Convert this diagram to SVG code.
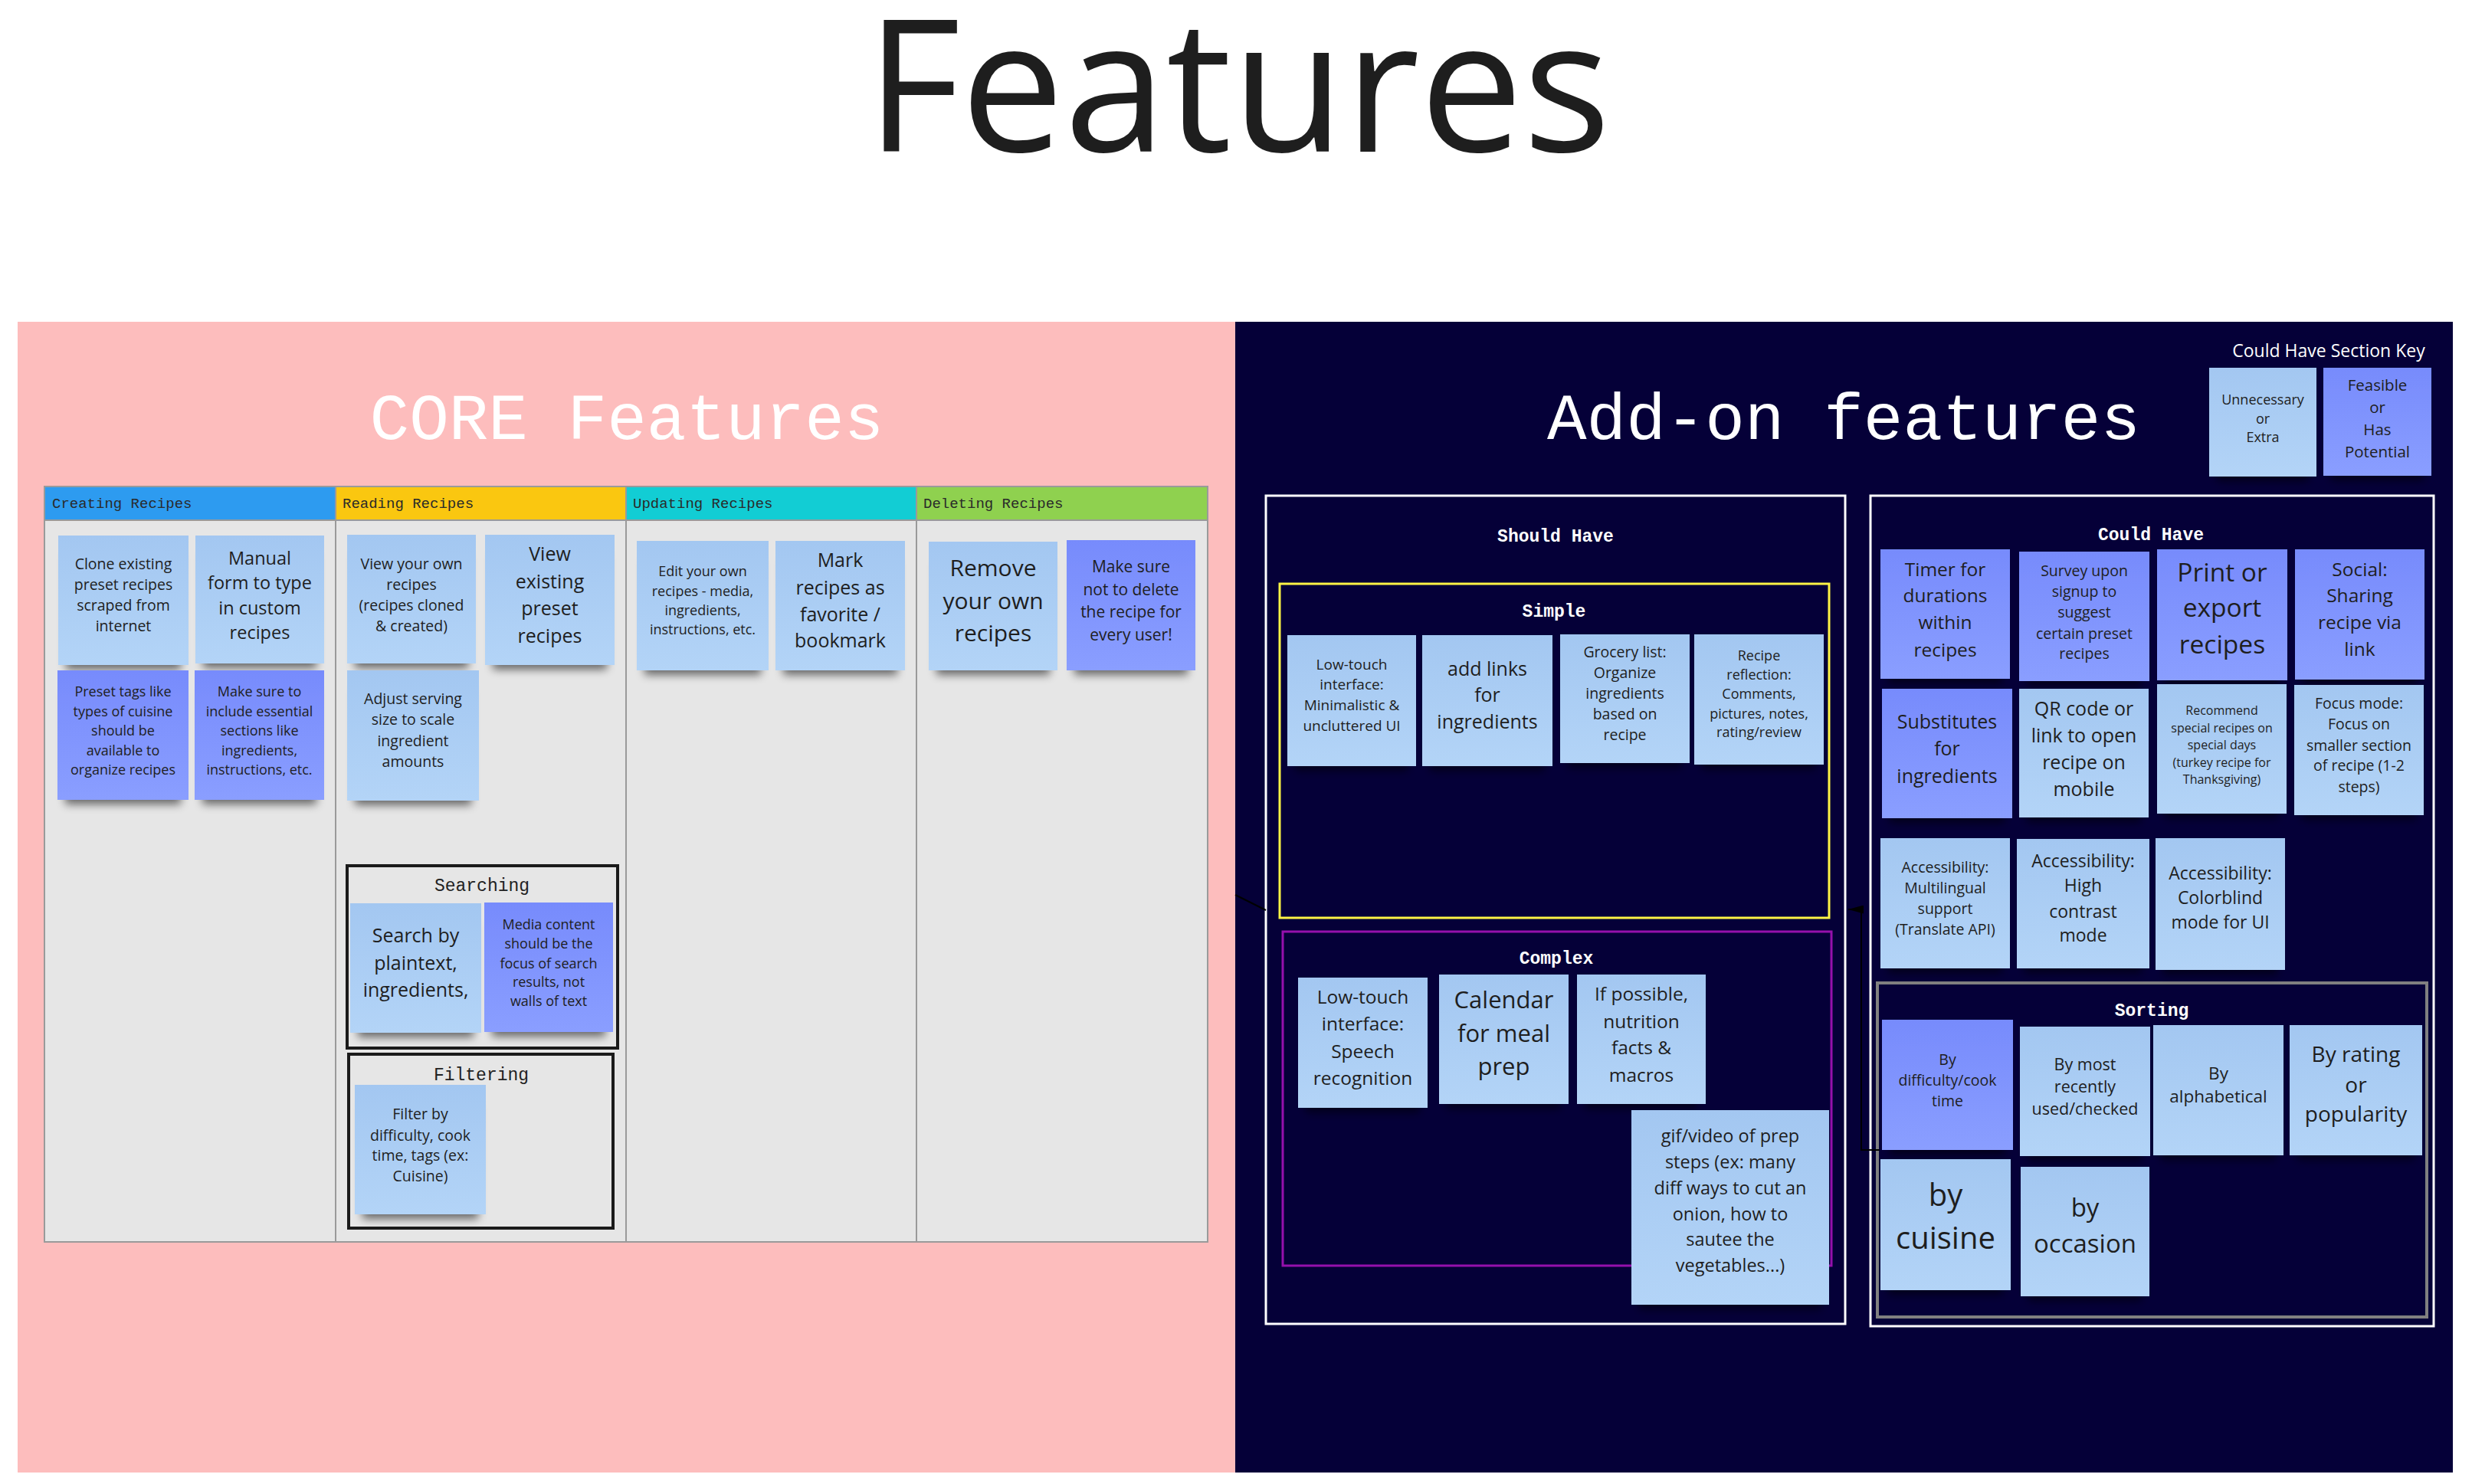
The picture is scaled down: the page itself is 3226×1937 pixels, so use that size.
<svg xmlns="http://www.w3.org/2000/svg" width="3226" height="1937" viewBox="0 0 3226 1937">
<defs>
<linearGradient id="gl" x1="0" y1="0" x2="0" y2="1"><stop offset="0" stop-color="#a3c7f1"/><stop offset="1" stop-color="#b3d4f7"/></linearGradient>
<linearGradient id="gd" x1="0" y1="0" x2="0" y2="1"><stop offset="0" stop-color="#778bfc"/><stop offset="1" stop-color="#8a9eff"/></linearGradient>
<filter id="sh" x="-10%" y="-10%" width="120%" height="135%">
<feMorphology in="SourceAlpha" operator="erode" radius="10" result="e"/>
<feOffset in="e" dy="16" result="o"/>
<feGaussianBlur in="o" stdDeviation="6" result="b"/>
<feComponentTransfer in="b" result="s"><feFuncA type="linear" slope="0.55"/></feComponentTransfer>
<feMerge><feMergeNode in="s"/><feMergeNode in="SourceGraphic"/></feMerge>
</filter>
<marker id="arr" viewBox="0 0 20 11" refX="20" refY="5.5" markerWidth="20" markerHeight="11" markerUnits="userSpaceOnUse" orient="auto" preserveAspectRatio="none"><path d="M0,0 L20,5.5 L0,11 z" fill="#000"/></marker>
<style>
.lt{fill:url(#gl);filter:url(#sh)}
.dk{fill:url(#gd);filter:url(#sh)}
.t{font-family:"Open Sans","Noto Sans",sans-serif;fill:#1e1e1e;text-anchor:middle}
.mono{font-family:"Liberation Mono","DejaVu Sans Mono",monospace}
.hdr{font-size:19px;fill:#2a2a2a}
.lbl{font-size:23px;text-anchor:middle}
.wl{fill:#fff;font-weight:bold}
.frame{fill:none}
</style>
</defs>
<rect width="3226" height="1937" fill="#fff"/>
<text x="1130" y="198" font-family="'Open Sans','Noto Sans',sans-serif" font-size="240" fill="#1e1e1e">Features</text>

<g id="core-panel">
<rect x="23" y="420" width="1589" height="1502" fill="#fdbdbd"/>
<text class="mono" x="818" y="573" font-size="86" fill="#fff" text-anchor="middle">CORE Features</text>
</g>
<g id="addon-panel">
<rect x="1612" y="420" width="1589" height="1502" fill="#050038"/>
<text class="mono" x="2406" y="573" font-size="86" fill="#fff" text-anchor="middle">Add-on features</text>
</g>

<g id="board">
<rect x="58" y="635" width="1518" height="986" fill="#e6e6e6" stroke="#9a9a9a" stroke-width="2"/>
<rect x="58" y="635" width="380" height="44" fill="#2d9bf0"/>
<rect x="438" y="635" width="379" height="44" fill="#fac710"/>
<rect x="817" y="635" width="379" height="44" fill="#12cdd4"/>
<rect x="1196" y="635" width="380" height="44" fill="#8fd14f"/>
<g stroke="#9a9a9a" stroke-width="2">
<line x1="58" y1="679" x2="1576" y2="679"/>
<line x1="438" y1="635" x2="438" y2="1621"/>
<line x1="817" y1="635" x2="817" y2="1621"/>
<line x1="1196" y1="635" x2="1196" y2="1621"/>
<rect x="58" y="635" width="1518" height="986" fill="none"/>
</g>
<text class="mono hdr" x="68" y="663">Creating Recipes</text>
<text class="mono hdr" x="447" y="663">Reading Recipes</text>
<text class="mono hdr" x="826" y="663">Updating Recipes</text>
<text class="mono hdr" x="1205" y="663">Deleting Recipes</text>
</g>

<g id="searching">
<rect class="frame" x="453" y="1130" width="353" height="238" stroke="#1a1a1a" stroke-width="4"/>
<text class="mono lbl" x="629" y="1163" fill="#222">Searching</text>
</g>
<g id="filtering">
<rect class="frame" x="455" y="1376" width="345" height="227" stroke="#1a1a1a" stroke-width="4"/>
<text class="mono lbl" x="628" y="1410" fill="#222">Filtering</text>
</g>

<g id="n-clone"><rect class="lt" x="76" y="699" width="170" height="169"/><text class="t" font-size="19.5"><tspan x="161" y="743">Clone existing</tspan><tspan x="161" y="770">preset recipes</tspan><tspan x="161" y="797">scraped from</tspan><tspan x="161" y="824">internet</tspan></text></g>
<g id="n-manual"><rect class="lt" x="255" y="699" width="168" height="167"/><text class="t" font-size="23.5"><tspan x="339" y="737">Manual</tspan><tspan x="339" y="769">form to type</tspan><tspan x="339" y="802">in custom</tspan><tspan x="339" y="834">recipes</tspan></text></g>
<g id="n-presettags"><rect class="dk" x="75" y="875" width="171" height="169"/><text class="t" font-size="18"><tspan x="160.5" y="909">Preset tags like</tspan><tspan x="160.5" y="934.5">types of cuisine</tspan><tspan x="160.5" y="960">should be</tspan><tspan x="160.5" y="985.5">available to</tspan><tspan x="160.5" y="1011">organize recipes</tspan></text></g>
<g id="n-essential"><rect class="dk" x="254" y="875" width="169" height="169"/><text class="t" font-size="18"><tspan x="338.5" y="909">Make sure to</tspan><tspan x="338.5" y="934.5">include essential</tspan><tspan x="338.5" y="960">sections like</tspan><tspan x="338.5" y="985.5">ingredients,</tspan><tspan x="338.5" y="1011">instructions, etc.</tspan></text></g>
<g id="n-viewown"><rect class="lt" x="453" y="698" width="168" height="168"/><text class="t" font-size="19.5"><tspan x="537" y="743">View your own</tspan><tspan x="537" y="770">recipes</tspan><tspan x="537" y="797">(recipes cloned</tspan><tspan x="537" y="824">&amp; created)</tspan></text></g>
<g id="n-viewpreset"><rect class="lt" x="633" y="698" width="169" height="170"/><text class="t" font-size="25"><tspan x="717.5" y="732">View</tspan><tspan x="717.5" y="768">existing</tspan><tspan x="717.5" y="803">preset</tspan><tspan x="717.5" y="839">recipes</tspan></text></g>
<g id="n-adjust"><rect class="lt" x="453" y="875" width="172" height="170"/><text class="t" font-size="19.5"><tspan x="539" y="919">Adjust serving</tspan><tspan x="539" y="946">size to scale</tspan><tspan x="539" y="974">ingredient</tspan><tspan x="539" y="1001">amounts</tspan></text></g>
<g id="n-edit"><rect class="lt" x="831" y="706" width="172" height="169"/><text class="t" font-size="18"><tspan x="917" y="752">Edit your own</tspan><tspan x="917" y="778">recipes - media,</tspan><tspan x="917" y="803">ingredients,</tspan><tspan x="917" y="828">instructions, etc.</tspan></text></g>
<g id="n-mark"><rect class="lt" x="1012" y="706" width="169" height="169"/><text class="t" font-size="25"><tspan x="1096.5" y="740">Mark</tspan><tspan x="1096.5" y="776">recipes as</tspan><tspan x="1096.5" y="811">favorite /</tspan><tspan x="1096.5" y="845">bookmark</tspan></text></g>
<g id="n-remove"><rect class="lt" x="1212" y="707" width="168" height="168"/><text class="t" font-size="30"><tspan x="1296" y="752">Remove</tspan><tspan x="1296" y="795">your own</tspan><tspan x="1296" y="837">recipes</tspan></text></g>
<g id="n-nodelete"><rect class="dk" x="1392" y="705" width="168" height="170"/><text class="t" font-size="21"><tspan x="1476" y="747">Make sure</tspan><tspan x="1476" y="777">not to delete</tspan><tspan x="1476" y="806">the recipe for</tspan><tspan x="1476" y="836">every user!</tspan></text></g>
<g id="n-search"><rect class="lt" x="457" y="1179" width="171" height="169"/><text class="t" font-size="25"><tspan x="542.5" y="1230">Search by</tspan><tspan x="542.5" y="1266">plaintext,</tspan><tspan x="542.5" y="1301">ingredients,</tspan></text></g>
<g id="n-media"><rect class="dk" x="632" y="1178" width="168" height="169"/><text class="t" font-size="18"><tspan x="716" y="1213">Media content</tspan><tspan x="716" y="1238">should be the</tspan><tspan x="716" y="1264">focus of search</tspan><tspan x="716" y="1288">results, not</tspan><tspan x="716" y="1313">walls of text</tspan></text></g>
<g id="n-filter"><rect class="lt" x="463" y="1416" width="171" height="169"/><text class="t" font-size="19.5"><tspan x="548.5" y="1461">Filter by</tspan><tspan x="548.5" y="1489">difficulty, cook</tspan><tspan x="548.5" y="1515">time, tags (ex:</tspan><tspan x="548.5" y="1542">Cuisine)</tspan></text></g>

<g id="key">
<text x="3039" y="466" font-family="'Open Sans','Noto Sans',sans-serif" font-size="23" fill="#fff" text-anchor="middle">Could Have Section Key</text>
</g>
<g id="k-unnecessary"><rect class="lt" x="2883" y="480" width="140" height="142"/><text class="t" font-size="18"><tspan x="2953" y="528">Unnecessary</tspan><tspan x="2953" y="553">or</tspan><tspan x="2953" y="577">Extra</tspan></text></g>
<g id="k-feasible"><rect class="dk" x="3032" y="480" width="141" height="141"/><text class="t" font-size="20.5"><tspan x="3102.5" y="510">Feasible</tspan><tspan x="3102.5" y="539">or</tspan><tspan x="3102.5" y="568">Has</tspan><tspan x="3102.5" y="597">Potential</tspan></text></g>

<g id="should-have">
<rect class="frame" x="1652" y="647" width="756" height="1081" stroke="#fff" stroke-width="3"/>
<text class="mono lbl wl" x="2030" y="707">Should Have</text>
</g>
<g id="simple">
<rect class="frame" x="1670" y="762" width="717" height="436" stroke="#fef445" stroke-width="3"/>
<text class="mono lbl wl" x="2028" y="805">Simple</text>
</g>
<g id="complex">
<rect class="frame" x="1674" y="1216" width="716" height="436" stroke="#9510ac" stroke-width="3"/>
<text class="mono lbl wl" x="2031" y="1258">Complex</text>
</g>
<g id="could-have">
<rect class="frame" x="2441" y="647" width="735" height="1084" stroke="#fff" stroke-width="3"/>
<text class="mono lbl wl" x="2807" y="705">Could Have</text>
</g>
<g id="sorting">
<rect class="frame" x="2450" y="1283" width="717" height="436" stroke="#808080" stroke-width="4"/>
<text class="mono lbl wl" x="2808" y="1326">Sorting</text>
</g>

<g id="s-lowtouch"><rect class="lt" x="1680" y="829" width="168" height="171"/><text class="t" font-size="19"><tspan x="1764" y="874">Low-touch</tspan><tspan x="1764" y="900">interface:</tspan><tspan x="1764" y="927">Minimalistic &amp;</tspan><tspan x="1764" y="954">uncluttered UI</tspan></text></g>
<g id="s-links"><rect class="lt" x="1856" y="829" width="170" height="171"/><text class="t" font-size="25"><tspan x="1941" y="882">add links</tspan><tspan x="1941" y="916">for</tspan><tspan x="1941" y="951">ingredients</tspan></text></g>
<g id="s-grocery"><rect class="lt" x="2036" y="828" width="169" height="168"/><text class="t" font-size="19.5"><tspan x="2120.5" y="858">Grocery list:</tspan><tspan x="2120.5" y="885">Organize</tspan><tspan x="2120.5" y="912">ingredients</tspan><tspan x="2120.5" y="939">based on</tspan><tspan x="2120.5" y="966">recipe</tspan></text></g>
<g id="s-reflection"><rect class="lt" x="2211" y="828" width="169" height="170"/><text class="t" font-size="18"><tspan x="2295.5" y="862">Recipe</tspan><tspan x="2295.5" y="887">reflection:</tspan><tspan x="2295.5" y="912">Comments,</tspan><tspan x="2295.5" y="938">pictures, notes,</tspan><tspan x="2295.5" y="962">rating/review</tspan></text></g>

<g id="c-speech"><rect class="lt" x="1694" y="1276" width="169" height="170"/><text class="t" font-size="24.5"><tspan x="1778.5" y="1310">Low-touch</tspan><tspan x="1778.5" y="1345">interface:</tspan><tspan x="1778.5" y="1381">Speech</tspan><tspan x="1778.5" y="1416">recognition</tspan></text></g>
<g id="c-calendar"><rect class="lt" x="1878" y="1272" width="169" height="169"/><text class="t" font-size="31"><tspan x="1962.5" y="1316">Calendar</tspan><tspan x="1962.5" y="1360">for meal</tspan><tspan x="1962.5" y="1403">prep</tspan></text></g>
<g id="c-nutrition"><rect class="lt" x="2058" y="1272" width="168" height="169"/><text class="t" font-size="24.5"><tspan x="2142" y="1306">If possible,</tspan><tspan x="2142" y="1342">nutrition</tspan><tspan x="2142" y="1376">facts &amp;</tspan><tspan x="2142" y="1412">macros</tspan></text></g>
<g id="c-gif"><rect class="lt" x="2129" y="1449" width="258" height="254"/><text class="t" font-size="23.5"><tspan x="2258" y="1491">gif/video of prep</tspan><tspan x="2258" y="1525">steps (ex: many</tspan><tspan x="2258" y="1559">diff ways to cut an</tspan><tspan x="2258" y="1593">onion, how to</tspan><tspan x="2258" y="1626">sautee the</tspan><tspan x="2258" y="1660">vegetables...)</tspan></text></g>

<g id="ch-timer"><rect class="dk" x="2454" y="717" width="169" height="169"/><text class="t" font-size="24.5"><tspan x="2538.5" y="752">Timer for</tspan><tspan x="2538.5" y="786">durations</tspan><tspan x="2538.5" y="821">within</tspan><tspan x="2538.5" y="857">recipes</tspan></text></g>
<g id="ch-survey"><rect class="dk" x="2635" y="720" width="170" height="169"/><text class="t" font-size="19.5"><tspan x="2720" y="752">Survey upon</tspan><tspan x="2720" y="779">signup to</tspan><tspan x="2720" y="806">suggest</tspan><tspan x="2720" y="834">certain preset</tspan><tspan x="2720" y="860">recipes</tspan></text></g>
<g id="ch-print"><rect class="dk" x="2815" y="717" width="170" height="171"/><text class="t" font-size="33.5"><tspan x="2900" y="759">Print or</tspan><tspan x="2900" y="805">export</tspan><tspan x="2900" y="853">recipes</tspan></text></g>
<g id="ch-social"><rect class="dk" x="2995" y="717" width="169" height="170"/><text class="t" font-size="24.5"><tspan x="3079.5" y="752">Social:</tspan><tspan x="3079.5" y="786">Sharing</tspan><tspan x="3079.5" y="821">recipe via</tspan><tspan x="3079.5" y="856">link</tspan></text></g>
<g id="ch-substitutes"><rect class="dk" x="2456" y="899" width="170" height="169"/><text class="t" font-size="25"><tspan x="2541" y="951">Substitutes</tspan><tspan x="2541" y="986">for</tspan><tspan x="2541" y="1022">ingredients</tspan></text></g>
<g id="ch-qr"><rect class="lt" x="2635" y="899" width="169" height="168"/><text class="t" font-size="25"><tspan x="2719.5" y="934">QR code or</tspan><tspan x="2719.5" y="969">link to open</tspan><tspan x="2719.5" y="1004">recipe on</tspan><tspan x="2719.5" y="1039">mobile</tspan></text></g>
<g id="ch-recommend"><rect class="lt" x="2815" y="893" width="169" height="169"/><text class="t" font-size="16"><tspan x="2899.5" y="933">Recommend</tspan><tspan x="2899.5" y="955.5">special recipes on</tspan><tspan x="2899.5" y="978">special days</tspan><tspan x="2899.5" y="1000.5">(turkey recipe for</tspan><tspan x="2899.5" y="1023">Thanksgiving)</tspan></text></g>
<g id="ch-focus"><rect class="lt" x="2994" y="894" width="169" height="170"/><text class="t" font-size="19.5"><tspan x="3078.5" y="925">Focus mode:</tspan><tspan x="3078.5" y="952">Focus on</tspan><tspan x="3078.5" y="980">smaller section</tspan><tspan x="3078.5" y="1006">of recipe (1-2</tspan><tspan x="3078.5" y="1034">steps)</tspan></text></g>
<g id="ch-multilingual"><rect class="lt" x="2454" y="1094" width="169" height="170"/><text class="t" font-size="19.5"><tspan x="2538.5" y="1139">Accessibility:</tspan><tspan x="2538.5" y="1166">Multilingual</tspan><tspan x="2538.5" y="1193">support</tspan><tspan x="2538.5" y="1220">(Translate API)</tspan></text></g>
<g id="ch-contrast"><rect class="lt" x="2632" y="1095" width="173" height="169"/><text class="t" font-size="23"><tspan x="2718.5" y="1132">Accessibility:</tspan><tspan x="2718.5" y="1164">High</tspan><tspan x="2718.5" y="1198">contrast</tspan><tspan x="2718.5" y="1229">mode</tspan></text></g>
<g id="ch-colorblind"><rect class="lt" x="2813" y="1094" width="169" height="172"/><text class="t" font-size="23"><tspan x="2897.5" y="1148">Accessibility:</tspan><tspan x="2897.5" y="1180">Colorblind</tspan><tspan x="2897.5" y="1212">mode for UI</tspan></text></g>

<g id="so-difficulty"><rect class="dk" x="2456" y="1331" width="171" height="170"/><text class="t" font-size="19.5"><tspan x="2541.5" y="1390">By</tspan><tspan x="2541.5" y="1417">difficulty/cook</tspan><tspan x="2541.5" y="1444">time</tspan></text></g>
<g id="so-recent"><rect class="lt" x="2636" y="1340" width="170" height="169"/><text class="t" font-size="21.5"><tspan x="2721" y="1397">By most</tspan><tspan x="2721" y="1426">recently</tspan><tspan x="2721" y="1455">used/checked</tspan></text></g>
<g id="so-alpha"><rect class="lt" x="2810" y="1338" width="170" height="170"/><text class="t" font-size="22.5"><tspan x="2895" y="1409">By</tspan><tspan x="2895" y="1439">alphabetical</tspan></text></g>
<g id="so-rating"><rect class="lt" x="2988" y="1338" width="173" height="170"/><text class="t" font-size="28"><tspan x="3074.5" y="1386">By rating</tspan><tspan x="3074.5" y="1426">or</tspan><tspan x="3074.5" y="1464">popularity</tspan></text></g>
<g id="so-cuisine"><rect class="lt" x="2454" y="1513" width="170" height="171"/><text class="t" font-size="40"><tspan x="2539" y="1574">by</tspan><tspan x="2539" y="1630">cuisine</tspan></text></g>
<g id="so-occasion"><rect class="lt" x="2637" y="1523" width="168" height="169"/><text class="t" font-size="33"><tspan x="2721" y="1588">by</tspan><tspan x="2721" y="1635">occasion</tspan></text></g>

<g id="connectors" fill="none" stroke="#000" stroke-width="2">
<path d="M2453,1501 H2429 V1187 H2412" marker-end="url(#arr)"/>
<path d="M1612,1168 L1652,1188"/>
</g>
</svg>
